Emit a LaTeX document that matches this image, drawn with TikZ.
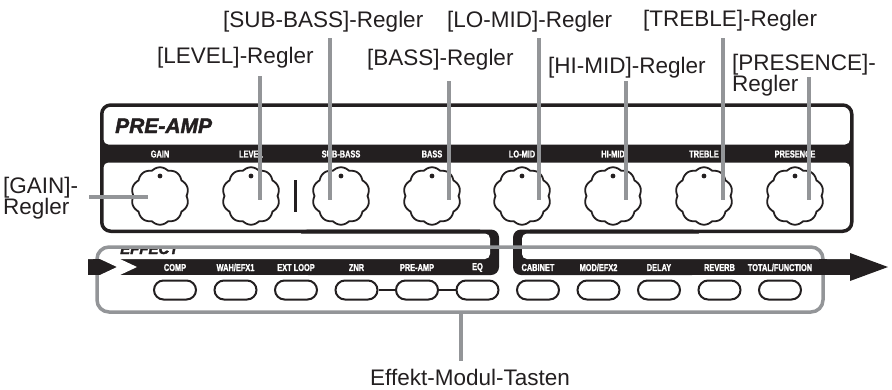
\documentclass[tikz,border=0pt]{standalone}
\usepackage{fontspec}
\setmainfont{Liberation Sans}
\newfontfamily\condf{Liberation Sans}[FakeStretch=0.74,FakeBold=1.2]
\newfontfamily\heavyf{Liberation Sans}[FakeBold=2]
\definecolor{ink}{HTML}{231F20}
\definecolor{callgray}{HTML}{939598}
\begin{document}
\begin{tikzpicture}[x=1pt,y=-1pt,
  call/.style={font=\fontsize{22.5}{24}\selectfont, text=ink, inner sep=0pt, anchor=base west},
  bandlab/.style={font=\condf\bfseries\fontsize{10}{10}\selectfont, text=white, inner sep=0pt},
  cline/.style={draw=callgray, line width=4pt},
  btn/.style={draw=ink, line width=2pt, rounded corners=9.5pt, minimum width=42pt, minimum height=19pt, inner sep=0pt, fill=white},
  knobline/.style={draw=ink, line width=1.8pt}]
\useasboundingbox (0,0) rectangle (892,389);

% ---- panel interior: label band with white areas
\fill[ink] (102,140) rectangle (851,167);
\fill[white, rounded corners=5pt] (103.5,115) rectangle (850,144.5);
\fill[white, rounded corners=5pt] (103.5,162.5) rectangle (850,229.5);

% ---- effect brackets and band (left group)
\fill[ink, rounded corners=8pt] (300,229.5) rectangle (499,275);
\fill[ink] (88,259) rectangle (320,275);
\fill[white, rounded corners=5pt] (80,233.5) rectangle (490,259);
% ---- right group
\fill[ink, rounded corners=8pt] (513,229.5) rectangle (700,275);
\fill[ink] (680,259) rectangle (852,275);
\fill[white, rounded corners=5pt] (522,233.5) rectangle (900,259);
\fill[ink] (850,253) -- (888,267) -- (850,281) -- cycle;

% ---- panel outline
\draw[ink, line width=3.5pt, rounded corners=9pt]
  (480,231.25) -- (101.75,231.25) -- (101.75,105) -- (851.75,105) -- (851.75,231.25) -- (530,231.25);

% ---- titles
\node[anchor=base west, inner sep=0pt, text=ink, font=\heavyf\bfseries\itshape\fontsize{21}{21}\selectfont] (pretitle) at (115,133) {PRE-AMP};
\begin{scope}
  \clip (110,246) rectangle (200,262);
  \node[anchor=base west, inner sep=0pt, text=ink, font=\heavyf\bfseries\itshape\fontsize{15}{15}\selectfont] (efftitle) at (120,254) {EFFECT};
\end{scope}

% ---- gray frame around buttons
\draw[callgray, line width=3.5pt, rounded corners=12pt] (97,247) rectangle (823,312);
\fill[ink] (93,259) rectangle (100,275);
\fill[ink] (819,259) rectangle (827,275);
% chevron
\fill[white] (100,259) -- (120,259) -- (137,267) -- (120,275) -- (100,275) -- (117,267) -- cycle;

% ---- knobs
\foreach \cx/\nm/\lab in {160/gain/GAIN,251/level/LEVEL,341/subbass/SUB-BASS,432/bass/BASS,522/lomid/LO-MID,613/himid/HI-MID,704/treble/TREBLE,795/presence/PRESENCE}{
  \coordinate (k-\nm) at (\cx,196);
  \draw[knobline] plot[domain=0:360, samples=241] ({\cx+(26.5+2.2*abs(sin(5*\x)))*cos(\x)},{196+(26.5+2.2*abs(sin(5*\x)))*sin(\x)}) -- cycle;
  \fill[ink] (\cx,176) circle (2.4pt);
  \node[bandlab] (l-\nm) at (\cx,154) {\lab};
}
\draw[ink, line width=3pt] (295,180) -- (295,212);

% ---- buttons
\foreach \bx/\nm/\lab [count=\i] in {175/comp/{COMP},235.5/wah/{WAH/EFX1},296/ext/{EXT LOOP},356.5/znr/{ZNR},417/pre/{PRE-AMP},477.5/eq/{EQ},538/cab/{CABINET},598.5/mod/{MOD/EFX2},659/dly/{DELAY},719.5/rev/{REVERB},780/tot/{TOTAL/FUNCTION}}{
  \node[btn] (b\i) at (\bx,290) {};
  \node[bandlab] (bl\i) at (\bx,267.5) {\lab};
}
\draw[ink, line width=2pt] (b4.east) -- (b5.west);
\draw[ink, line width=2pt] (b5.east) -- (b6.west);

% ---- callout texts
\node[call] (t-subbass) at (223,27.7) {[SUB-BASS]-Regler};
\node[call] (t-lomid) at (447,27.7) {[LO-MID]-Regler};
\node[call] (t-treble) at (643,26) {[TREBLE]-Regler};
\node[call] (t-level) at (157,63.3) {[LEVEL]-Regler};
\node[call] (t-bass) at (367,65.7) {[BASS]-Regler};
\node[call] (t-himid) at (548,73.3) {[HI-MID]-Regler};
\node[call] (t-pres1) at (732,70.7) {[PRESENCE]-};
\node[call] (t-pres2) at (732,91) {Regler};
\node[call] (t-gain1) at (3,193) {[GAIN]-};
\node[call] (t-gain2) at (3,214) {Regler};
\node[call] (t-eff) at (370,385) {Effekt-Modul-Tasten};

% ---- callout lines
\coordinate (c-level-t) at (260,76);   \coordinate (c-level-b) at (260,200);
\coordinate (c-sub-t) at (330,38);     \coordinate (c-sub-b) at (330,200);
\coordinate (c-bass-t) at (449,81);    \coordinate (c-bass-b) at (449,200);
\coordinate (c-lomid-t) at (539,38);   \coordinate (c-lomid-b) at (539,200);
\coordinate (c-himid-t) at (626,81);   \coordinate (c-himid-b) at (626,200);
\coordinate (c-treble-t) at (723,38);  \coordinate (c-treble-b) at (723,200);
\coordinate (c-pres-t) at (809,77);    \coordinate (c-pres-b) at (809,200);
\coordinate (c-gain-l) at (89,197);    \coordinate (c-gain-r) at (148,197);
\coordinate (c-eff-t) at (461,312);    \coordinate (c-eff-b) at (461,361);
\draw[cline] (c-level-t) -- (c-level-b);
\draw[cline] (c-sub-t) -- (c-sub-b);
\draw[cline] (c-bass-t) -- (c-bass-b);
\draw[cline] (c-lomid-t) -- (c-lomid-b);
\draw[cline] (c-himid-t) -- (c-himid-b);
\draw[cline] (c-treble-t) -- (c-treble-b);
\draw[cline] (c-pres-t) -- (c-pres-b);
\draw[cline] (c-gain-l) -- (c-gain-r);
\draw[cline] (c-eff-t) -- (c-eff-b);
\end{tikzpicture}
\end{document}
